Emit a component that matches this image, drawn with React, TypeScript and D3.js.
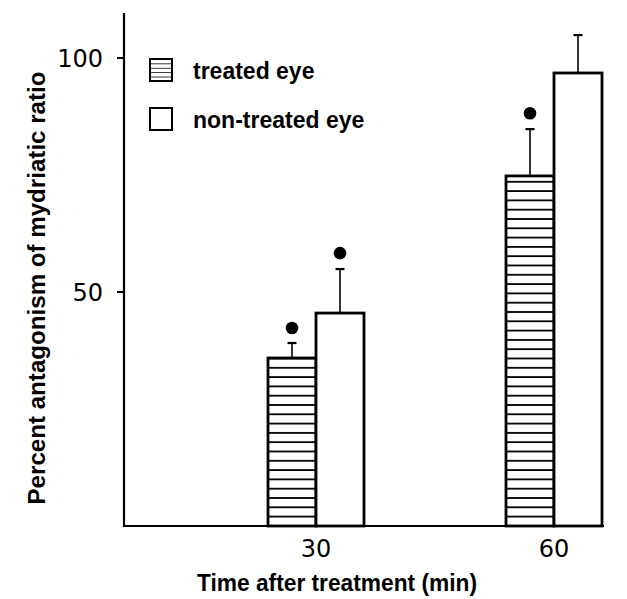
import React from "react";
import * as d3 from "d3";

const categories = ["30", "60"];
const seriesNames = ["treated eye", "non-treated eye"];
const treatedMean = [35.9, 74.8];
const treatedErr = [39.1, 84.8];
const nonTreatedMean = [45.5, 96.8];
const nonTreatedErr = [54.9, 104.9];
const treatedStar = [42.3, 88.2];
const nonTreatedStar = [58.3, null];
const yTicks = [50, 100];
const xTitle = "Time after treatment (min)";
const yTitle = "Percent antagonism of mydriatic ratio";

const W = 627;
const H = 599;

export default function App() {
  const y = d3.scaleLinear().domain([0, 100]).range([526, 58]);
  const x = d3.scalePoint<string>().domain(categories).range([316, 554]);
  const axisX = 124;
  const axisRight = 604;
  const bw = 48;
  const font = "'Liberation Sans', Arial, sans-serif";
  const numFont = "'DejaVu Sans', sans-serif";

  const series = [
    { name: seriesNames[0], mean: treatedMean, err: treatedErr, star: treatedStar, hatched: true, offset: -1 },
    { name: seriesNames[1], mean: nonTreatedMean, err: nonTreatedErr, star: nonTreatedStar, hatched: false, offset: 0 },
  ];

  return (
    <svg width={W} height={H} style={{ display: "block", position: "absolute", left: 0, top: 0 }}>
      <defs>
        <pattern id="hatch" patternUnits="userSpaceOnUse" width={8} height={9.3} y={526 - 8.5}>
          <rect width={8} height={9.3} fill="white" />
          <line x1={0} x2={8} y1={8.5} y2={8.5} stroke="black" strokeWidth={2} />
        </pattern>
        <pattern id="hatchSmall" patternUnits="userSpaceOnUse" width={8} height={4.4} y={59}>
          <rect width={8} height={4.4} fill="white" />
          <line x1={0} x2={8} y1={0} y2={0} stroke="black" strokeWidth={1.6} />
        </pattern>
      </defs>
      <rect width={W} height={H} fill="white" />

      {series.map((s) =>
        categories.map((c, i) => {
          const left = (x(c) as number) + s.offset * bw;
          const cx = left + bw / 2;
          const top = y(s.mean[i]);
          const errTop = y(s.err[i]);
          const star = s.star[i];
          return (
            <g key={s.name + c}>
              <line x1={cx} x2={cx} y1={top} y2={errTop} stroke="black" strokeWidth={1.6} />
              <line x1={cx - 4.5} x2={cx + 4.5} y1={errTop} y2={errTop} stroke="black" strokeWidth={2.2} />
              <rect
                x={left}
                y={top}
                width={bw}
                height={y(0) - top}
                fill={s.hatched ? "url(#hatch)" : "white"}
                stroke="black"
                strokeWidth={2.8}
              />
              {star != null && <circle cx={cx} cy={y(star)} r={6.3} fill="black" />}
            </g>
          );
        })
      )}

      <line x1={axisX} x2={axisX} y1={y(0) + 1} y2={y(109.6)} stroke="black" strokeWidth={2.2} />
      <line x1={axisX - 1} x2={axisRight} y1={y(0)} y2={y(0)} stroke="black" strokeWidth={2.2} />
      {yTicks.map((t) => (
        <g key={t}>
          <line x1={axisX - 7} x2={axisX} y1={y(t)} y2={y(t)} stroke="black" strokeWidth={2} />
          <text x={103} y={y(t) + 8.5} textAnchor="end" fontFamily={numFont} fontSize={24} fill="black">
            {t}
          </text>
        </g>
      ))}
      {categories.map((c) => (
        <text key={c} x={x(c) as number} y={556.5} textAnchor="middle" fontFamily={numFont} fontSize={24} fill="black">
          {c}
        </text>
      ))}

      <text x={337} y={591} textAnchor="middle" fontFamily={font} fontWeight="bold" fontSize={23} textLength={280} lengthAdjust="spacingAndGlyphs" fill="black">
        {xTitle}
      </text>
      <text
        transform={`translate(45, 288) rotate(-90)`}
        textAnchor="middle"
        fontFamily={font}
        fontWeight="bold"
        fontSize={23}
        textLength={433}
        lengthAdjust="spacingAndGlyphs"
        fill="black"
      >
        {yTitle}
      </text>

      <rect x={150} y={59} width={22} height={22} fill="url(#hatchSmall)" stroke="black" strokeWidth={2} />
      <text x={193} y={79} fontFamily={font} fontWeight="bold" fontSize={23} fill="black">
        {seriesNames[0]}
      </text>
      <rect x={150} y={108} width={22} height={22} fill="white" stroke="black" strokeWidth={2} />
      <text x={193} y={128} fontFamily={font} fontWeight="bold" fontSize={23} fill="black">
        {seriesNames[1]}
      </text>
    </svg>
  );
}
